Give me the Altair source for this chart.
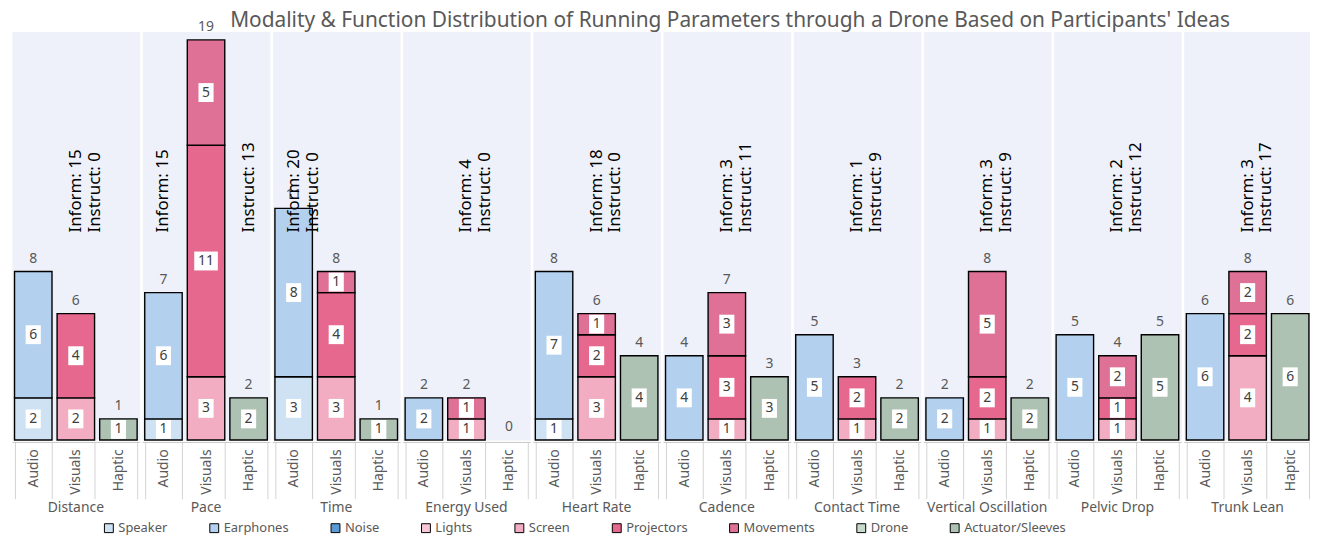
import altair as alt
import pandas as pd

params = ["Distance", "Pace", "Time", "Energy Used", "Heart Rate", "Cadence",
          "Contact Time", "Vertical Oscillation", "Pelvic Drop", "Trunk Lean"]
modalities = ["Audio", "Visuals", "Haptic"]
devices = ["Speaker", "Earphones", "Noise", "Lights", "Screen", "Projectors",
           "Movements", "Drone", "Actuator/Sleeves"]
device_modality = ["Audio", "Audio", "Audio", "Visuals", "Visuals", "Visuals",
                   "Visuals", "Haptic", "Haptic"]
device_colors = ["#cfe2f4", "#b3d0ee", "#5b9bd5", "#f6c8d5", "#f3adc2", "#e7688f",
                 "#e07196", "#c7d8cc", "#adc2b2"]

speaker = [2, 1, 3, 0, 1, 0, 0, 0, 0, 0]
earphones = [6, 6, 8, 2, 7, 4, 5, 2, 5, 6]
noise = [0, 0, 0, 0, 0, 0, 0, 0, 0, 0]
lights = [0, 0, 0, 0, 0, 0, 0, 0, 0, 0]
screen = [2, 3, 3, 1, 3, 1, 1, 1, 1, 4]
projectors = [4, 11, 4, 0, 2, 3, 2, 2, 1, 2]
movements = [0, 5, 1, 1, 1, 3, 0, 5, 2, 2]
drone = [0, 0, 0, 0, 0, 0, 0, 0, 0, 0]
actuator = [1, 2, 1, 0, 4, 3, 2, 2, 5, 6]

inform = [15, 15, 20, 4, 18, 3, 1, 3, 2, 3]
instruct = [0, 13, 0, 0, 0, 11, 9, 9, 12, 17]
anno_modality = ["Visuals", "split", "Audio", "Visuals", "Visuals", "Visuals",
                 "Visuals", "Visuals", "Visuals", "Visuals"]

series = [speaker, earphones, noise, lights, screen, projectors, movements, drone, actuator]

rows = []
for i, p in enumerate(params):
    for j, d in enumerate(devices):
        rows.append(dict(kind="bar", param=p, modality=device_modality[j], device=d,
                         order=j, value=series[j][i], label=""))
    if anno_modality[i] == "split":
        rows.append(dict(kind="anno", param=p, modality="Audio", device="", order=0,
                         value=0, label=f"Inform: {inform[i]}"))
        rows.append(dict(kind="anno", param=p, modality="Haptic", device="", order=0,
                         value=0, label=f"Instruct: {instruct[i]}"))
    else:
        rows.append(dict(kind="anno", param=p, modality=anno_modality[i], device="", order=0,
                         value=0, label=f"Inform: {inform[i]}\nInstruct: {instruct[i]}"))
df = pd.DataFrame(rows)

FONT = "Noto Sans"
GREY = "#595959"

xenc = alt.X("modality:N", sort=modalities,
             scale=alt.Scale(domain=modalities, paddingInner=0.12, paddingOuter=0.06),
             axis=alt.Axis(title=None, labelAngle=270, labelAlign="right", labelBaseline="middle",
                           labelFontSize=14, labelColor=GREY, labelPadding=-50,
                           tickBand="extent", tickSize=57, tickColor="#d4d4d4",
                           domainColor="#c8c8c8", labelFont=FONT))
yscale = alt.Scale(domain=[0, 19.4], nice=False)

base = alt.Chart()

bars = base.mark_bar(stroke="black", strokeWidth=1.4).transform_filter(
    (alt.datum.kind == "bar") & (alt.datum.value > 0)
).encode(
    x=xenc,
    y=alt.Y("value:Q", stack="zero", scale=yscale, axis=None),
    color=alt.Color("device:N", scale=alt.Scale(domain=devices, range=device_colors),
                    legend=alt.Legend(title=None, orient="none", direction="horizontal",
                                      columns=9, legendX=91, legendY=493,
                                      symbolType="square", symbolSize=80,
                                      symbolStrokeColor="black", symbolStrokeWidth=1,
                                      symbolOpacity=1, labelFontSize=13, labelColor=GREY,
                                      labelFont=FONT, columnPadding=40, labelOffset=3)),
    order=alt.Order("order:Q", sort="ascending"),
)

seg = base.transform_filter(alt.datum.kind == "bar").transform_window(
    cum="sum(value)", groupby=["param", "modality"], sort=[alt.SortField("order")],
    frame=[None, 0]
).transform_filter(alt.datum.value > 0).transform_calculate(
    mid="datum.cum - datum.value / 2",
    w="datum.value >= 10 ? 'w' : 'n'",
)

boxes = seg.mark_point(filled=True, color="white", opacity=1, size=361, strokeWidth=0).encode(
    x=xenc,
    y=alt.Y("mid:Q", scale=yscale, axis=None),
    shape=alt.Shape("w:N", scale=alt.Scale(
        domain=["n", "w"],
        range=["M-0.8,-1L0.8,-1L0.8,1L-0.8,1Z", "M-1.25,-1L1.25,-1L1.25,1L-1.25,1Z"]),
        legend=None),
)
seg_text = seg.mark_text(fontSize=14, color="#404040", font=FONT).encode(
    x=xenc,
    y=alt.Y("mid:Q", scale=yscale, axis=None),
    text=alt.Text("value:Q"),
)

totals = base.transform_filter(alt.datum.kind == "bar").transform_aggregate(
    total="sum(value)", groupby=["param", "modality"]
).mark_text(fontSize=14, color=GREY, baseline="bottom", dy=-6, font=FONT).encode(
    x=xenc,
    y=alt.Y("total:Q", scale=yscale, axis=None),
    text=alt.Text("total:Q"),
)

annos = base.transform_filter(alt.datum.kind == "anno").mark_text(
    angle=270, align="left", baseline="middle", fontSize=17, color="black",
    lineBreak="\n", lineHeight=19, font=FONT
).encode(
    x=xenc,
    y=alt.YDatum(datum=9.85, type="quantitative", scale=yscale, axis=None),
    text="label:N",
)

layer = alt.layer(bars, boxes, seg_text, totals, annos).properties(width=128.5, height=411)

chart = layer.facet(
    data=df,
    column=alt.Facet("param:N", sort=params, title=None,
                     header=alt.Header(labelOrient="bottom", labelFontSize=14,
                                       labelColor=GREY, labelFont=FONT, labelPadding=2)),
    spacing=1,
).properties(
    title=alt.TitleParams(
        "Modality & Function Distribution of Running Parameters through a Drone Based on Participants' Ideas",
        fontSize=21, fontWeight="normal", color=GREY, font=FONT, anchor="middle", dx=72, offset=-12),
    autosize=alt.AutoSizeParams(type="none"),
    padding={"left": 4, "top": 22, "right": 1306, "bottom": 506},
).configure(
    font=FONT,
    view=alt.ViewConfig(fill="#eef1f9", stroke="transparent"),
)

chart.save("out.html", embed_options={"renderer": "svg", "actions": False})
